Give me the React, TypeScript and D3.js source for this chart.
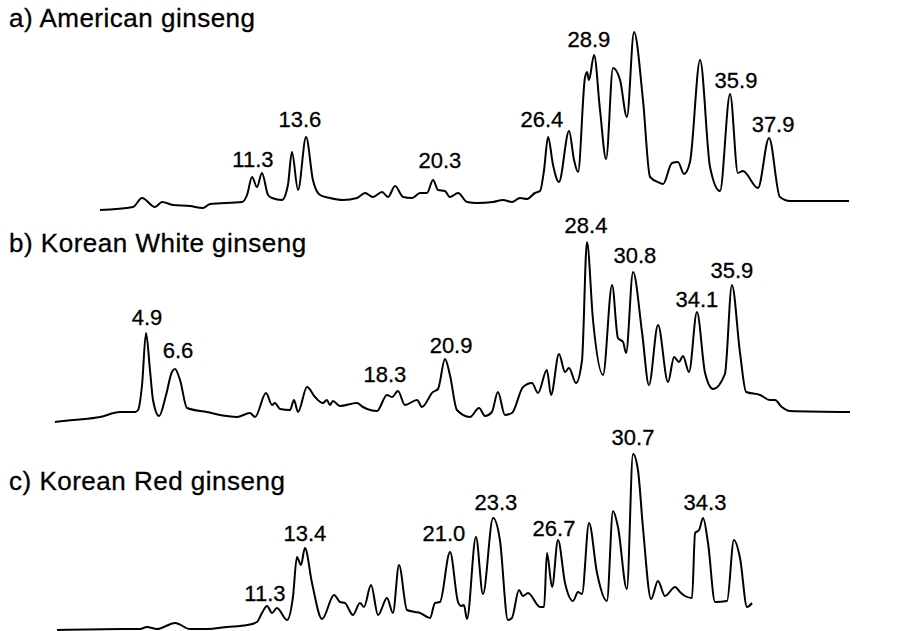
import React from "react";
import * as d3 from "d3";

// retention time (min), detector response (arb.)
const traceA: [number, number][] = [
  [2.92, 0], [4.65, 3], [5.12, 12], [5.8, 3], [6.17, 8], [6.74, 5], [7.63, 4], [8.31, 2],
  [8.68, 6], [10.36, 8], [10.62, 15], [10.88, 33], [11.14, 23], [11.4, 37], [11.72, 15],
  [11.93, 12], [12.45, 10], [12.76, 25], [12.97, 58], [13.29, 20], [13.71, 73], [14.07, 30],
  [14.44, 15], [14.96, 12], [15.64, 10], [16.38, 12], [16.8, 17], [17.21, 13], [17.69, 18],
  [18.0, 13], [18.37, 24], [18.79, 13], [19.26, 12], [19.68, 17], [20.04, 17], [20.36, 30],
  [20.62, 20], [20.98, 19], [21.24, 13], [21.67, 17], [22.14, 8], [22.66, 7], [23.5, 8],
  [24.02, 10], [24.49, 8], [24.91, 12], [25.28, 11], [25.69, 17], [25.96, 19], [26.17, 40],
  [26.38, 73], [26.64, 45], [26.95, 28], [27.48, 79], [27.74, 50], [27.95, 38], [28.31, 132],
  [28.42, 138], [28.52, 130], [28.79, 155], [29.1, 100], [29.42, 51], [29.78, 142],
  [30.15, 130], [30.51, 93], [30.88, 178], [31.35, 110], [31.72, 33], [32.24, 27],
  [32.4, 26], [32.87, 47], [33.18, 48], [33.5, 36], [33.81, 48], [34.34, 150], [34.86, 43],
  [35.38, 19], [35.91, 116], [36.32, 37], [36.58, 39], [37.37, 22], [37.95, 72], [38.52, 13],
  [39.05, 9], [42.14, 9],
];

const traceB: [number, number][] = [
  [0.08, 0], [1.04, 2], [2.47, 5], [3.52, 10], [4.32, 10], [4.48, 12], [4.69, 37], [4.9, 89],
  [5.11, 52], [5.27, 22], [5.59, 6], [5.96, 27], [6.27, 50], [6.43, 53], [6.7, 42], [7.07, 14],
  [8.12, 10], [9.18, 6], [9.71, 5], [10.4, 9], [10.67, 5], [11.25, 29], [11.57, 17],
  [11.72, 19], [11.99, 13], [12.52, 12], [12.73, 22], [12.94, 10], [13.42, 35], [13.84, 25],
  [14.26, 19], [14.47, 22], [14.63, 17], [14.79, 21], [15.16, 16], [16.06, 19], [16.38, 15],
  [17.12, 11], [17.65, 27], [17.92, 25], [18.23, 31], [18.6, 17], [19.24, 22], [19.5, 15],
  [20.08, 30], [20.35, 33], [20.72, 63], [20.98, 47], [21.35, 12], [22.04, 5], [22.52, 14],
  [22.84, 6], [23.2, 10], [23.52, 30], [23.89, 7], [24.26, 9], [24.85, 35], [25.32, 39],
  [25.64, 29], [26.11, 52], [26.33, 27], [26.75, 68], [27.07, 50], [27.28, 54], [27.65, 39],
  [27.97, 62], [28.23, 180], [28.55, 102], [29.08, 47], [29.56, 137], [29.87, 84],
  [30.14, 80], [30.3, 69], [30.67, 150], [31.15, 89], [31.51, 37], [31.99, 97], [32.52, 40],
  [32.84, 65], [33.1, 60], [33.31, 66], [33.63, 50], [34.05, 110], [34.48, 49], [34.9, 33],
  [35.53, 48], [35.9, 137], [36.33, 69], [36.65, 30], [37.39, 27], [37.91, 22], [38.18, 22],
  [38.54, 15], [38.97, 11], [42.15, 10],
];

const traceC: [number, number][] = [
  [0.37, 0], [3.83, 1], [4.73, 1], [5.09, 3], [5.62, 1], [6.57, 7], [7.35, 1], [8.25, 1],
  [9.3, 3], [10.35, 5], [10.87, 8], [11.13, 17], [11.4, 24], [11.66, 17], [11.92, 22],
  [12.45, 10], [12.76, 33], [12.97, 73], [13.18, 65], [13.39, 82], [13.76, 47], [14.29, 11],
  [14.92, 35], [15.23, 28], [15.49, 27], [15.91, 15], [16.28, 27], [16.49, 23], [16.86, 45],
  [17.23, 15], [17.7, 32], [18.01, 17], [18.33, 65], [18.75, 20], [19.17, 18], [19.43, 17],
  [19.96, 12], [20.22, 27], [20.48, 28], [21.01, 78], [21.43, 28], [21.59, 24], [21.74, 25],
  [21.9, 11], [22.37, 93], [22.74, 36], [23.27, 112], [23.63, 90], [24.05, 10], [24.26, 12],
  [24.63, 40], [24.84, 34], [25.11, 37], [25.74, 23], [25.95, 23], [26.1, 77], [26.37, 43],
  [26.68, 90], [27.05, 47], [27.47, 29], [27.73, 38], [27.94, 36], [28.31, 107], [28.73, 57],
  [29.25, 29], [29.57, 119], [29.83, 103], [30.3, 41], [30.62, 176], [30.88, 160],
  [31.14, 103], [31.57, 31], [31.93, 49], [32.3, 34], [32.83, 43], [33.09, 38], [33.35, 34],
  [33.72, 32], [33.88, 97], [34.09, 100], [34.3, 112], [34.56, 87], [34.93, 28], [35.56, 29],
  [35.92, 90], [36.24, 72], [36.61, 23], [36.87, 27],
];

// peak labels: text, anchor time, anchor height
const labelsA: [string, number, number][] = [
  ["11.3", 10.93, 43], ["13.6", 13.39, 83], ["20.3", 20.72, 42], ["26.4", 26.06, 83],
  ["28.9", 28.52, 163], ["35.9", 36.22, 122], ["37.9", 38.16, 78],
];
const labelsB: [string, number, number][] = [
  ["4.9", 4.95, 97], ["6.6", 6.59, 64], ["18.3", 17.54, 40], ["20.9", 21.04, 69],
  ["28.4", 28.18, 189], ["30.8", 30.77, 159], ["34.1", 34.05, 115], ["35.9", 35.9, 144],
];
const labelsC: [string, number, number][] = [
  ["11.3", 11.29, 29], ["13.4", 13.39, 89], ["21.0", 20.69, 89], ["23.3", 23.42, 120],
  ["26.7", 26.47, 94], ["30.7", 30.62, 185], ["34.3", 34.4, 120],
];

const titles = ["a) American ginseng", "b) Korean White ginseng", "c) Korean Red ginseng"];

const panels = [
  { data: traceA, labels: labelsA, x0: 44.2, k: 19.1, base: 210, titleY: 27 },
  { data: traceB, labels: labelsB, x0: 53.4, k: 18.9, base: 422, titleY: 252 },
  { data: traceC, labels: labelsC, x0: 50, k: 19.04, base: 630, titleY: 490 },
];

const W = 898;
const H = 631;
const font = "'Liberation Sans', Arial, sans-serif";

export default function App() {
  return (
    <svg
      width={W}
      height={H}
      style={{ position: "absolute", left: 0, top: 0, background: "#fff" }}
    >
      {panels.map((p, i) => {
        const x = d3.scaleLinear().domain([0, 42]).range([p.x0, p.x0 + p.k * 42]);
        const y = d3.scaleLinear().domain([0, 200]).range([p.base, p.base - 200]);
        const line = d3
          .line<[number, number]>()
          .x((d) => x(d[0]))
          .y((d) => y(d[1]))
          .curve(d3.curveMonotoneX);
        return (
          <g key={i}>
            <text
              x={9}
              y={p.titleY}
              fontFamily={font}
              fontSize={26}
              letterSpacing={0.5}
              fill="#000"
              stroke="#000"
              strokeWidth={0.3}
            >
              {titles[i]}
            </text>
            <path d={line(p.data) || ""} fill="none" stroke="#000" strokeWidth={2} strokeLinejoin="round" />
            {p.labels.map((l, j) => (
              <text
                key={j}
                x={x(l[1])}
                y={y(l[2])}
                textAnchor="middle"
                fontFamily={font}
                fontSize={22}
                fill="#000"
                stroke="#000"
                strokeWidth={0.3}
              >
                {l[0]}
              </text>
            ))}
          </g>
        );
      })}
    </svg>
  );
}
